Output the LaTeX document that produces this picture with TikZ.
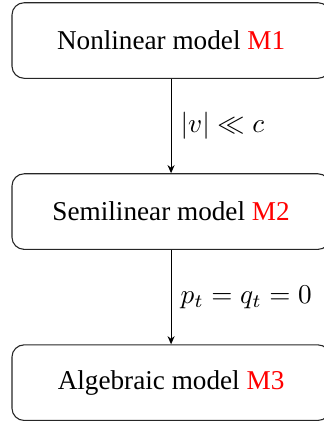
\documentclass[tikz,border=0pt]{standalone}
\usepackage{fontspec}
\setmainfont{Liberation Serif}
\usetikzlibrary{arrows.meta, positioning}

\begin{document}
\begin{tikzpicture}[
    node distance=34.7pt,
    modelbox/.style={rectangle, rounded corners=4.5pt, draw=black!85, minimum width=117pt, minimum height=27.8pt, align=center},
    arrow/.style={-{Stealth[length=3pt, width=2.6pt]}, black},
    condlabel/.style={midway, right}
]
\useasboundingbox (0,0) rectangle (119.1pt,-154.8pt);

% === Model hierarchy (vertical stack) ===
\node[modelbox] (m1) at (62.9pt,-14.9pt) {Nonlinear model \textcolor{red}{M1}};
\node[modelbox, below=of m1] (m2) {Semilinear model \textcolor{red}{M2}};
\node[modelbox, below=of m2] (m3) {Algebraic model \textcolor{red}{M3}};

% === Reduction arrows ===
\draw[arrow] (m1) -- node[condlabel] {$|v|\ll c$} (m2);
\draw[arrow] (m2) -- node[condlabel] {$p_t=q_t=0$} (m3);

\end{tikzpicture}
\end{document}
